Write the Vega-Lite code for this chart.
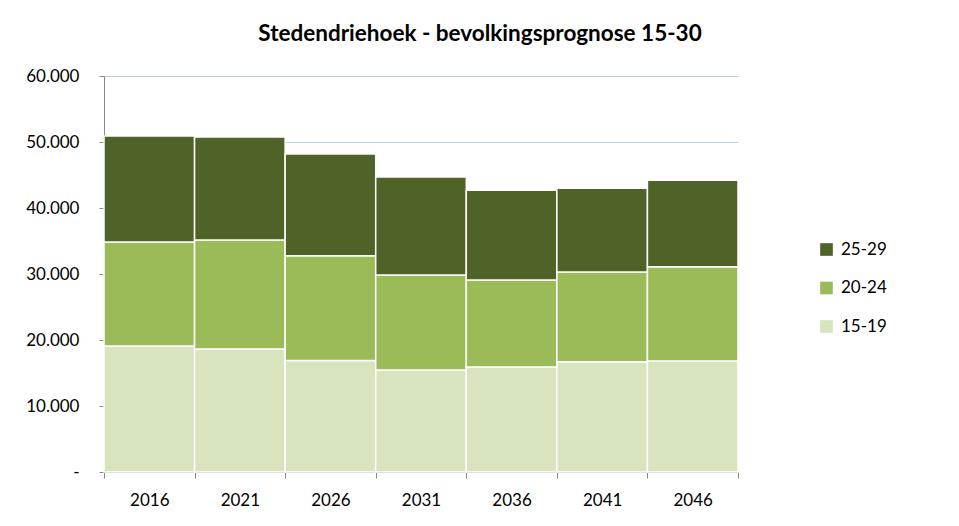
{
  "$schema": "https://vega.github.io/schema/vega-lite/v6.json",
  "width": 634,
  "height": 396,
  "autosize": {"type": "none"},
  "padding": {"left": 104, "top": 76, "right": 221, "bottom": 54},
  "background": "white",
  "title": {
    "text": "Stedendriehoek - bevolkingsprognose 15-30",
    "anchor": "middle",
    "dx": 59,
    "offset": 22,
    "font": "Lato",
    "fontSize": 22.5,
    "fontWeight": "bold",
    "color": "#000000"
  },
  "data": {
    "values": [
      {"jaar": "2016", "leeftijd": "15-19", "aantal": 19100},
      {"jaar": "2016", "leeftijd": "20-24", "aantal": 15750},
      {"jaar": "2016", "leeftijd": "25-29", "aantal": 16050},
      {"jaar": "2021", "leeftijd": "15-19", "aantal": 18650},
      {"jaar": "2021", "leeftijd": "20-24", "aantal": 16500},
      {"jaar": "2021", "leeftijd": "25-29", "aantal": 15600},
      {"jaar": "2026", "leeftijd": "15-19", "aantal": 16900},
      {"jaar": "2026", "leeftijd": "20-24", "aantal": 15850},
      {"jaar": "2026", "leeftijd": "25-29", "aantal": 15450},
      {"jaar": "2031", "leeftijd": "15-19", "aantal": 15450},
      {"jaar": "2031", "leeftijd": "20-24", "aantal": 14400},
      {"jaar": "2031", "leeftijd": "25-29", "aantal": 14850},
      {"jaar": "2036", "leeftijd": "15-19", "aantal": 15900},
      {"jaar": "2036", "leeftijd": "20-24", "aantal": 13200},
      {"jaar": "2036", "leeftijd": "25-29", "aantal": 13600},
      {"jaar": "2041", "leeftijd": "15-19", "aantal": 16700},
      {"jaar": "2041", "leeftijd": "20-24", "aantal": 13600},
      {"jaar": "2041", "leeftijd": "25-29", "aantal": 12700},
      {"jaar": "2046", "leeftijd": "15-19", "aantal": 16800},
      {"jaar": "2046", "leeftijd": "20-24", "aantal": 14300},
      {"jaar": "2046", "leeftijd": "25-29", "aantal": 13100}
    ]
  },
  "mark": {"type": "bar", "stroke": "white", "strokeWidth": 1.5},
  "encoding": {
    "x": {
      "field": "jaar",
      "type": "ordinal",
      "title": null,
      "scale": {"paddingInner": 0, "paddingOuter": 0},
      "axis": {
        "labelAngle": 0,
        "tickBand": "extent",
        "tickSize": 6,
        "labelPadding": 14,
        "labelFont": "Lato",
        "labelFontSize": 17,
        "labelColor": "#000000",
        "domainColor": "#888888",
        "tickColor": "#888888",
        "grid": false
      }
    },
    "y": {
      "field": "aantal",
      "type": "quantitative",
      "aggregate": "sum",
      "stack": "zero",
      "title": null,
      "scale": {"domain": [0, 60000]},
      "axis": {
        "values": [0, 10000, 20000, 30000, 40000, 50000, 60000],
        "labelExpr": "datum.value == 0 ? '-    ' : replace(format(datum.value, ',d'), ',', '.')",
        "tickSize": 5,
        "labelPadding": 20,
        "labelFont": "Lato",
        "labelFontSize": 17,
        "labelColor": "#000000",
        "domainColor": "#888888",
        "tickColor": "#888888",
        "grid": true,
        "gridColor": "#b7d3e2",
        "gridWidth": 1
      }
    },
    "color": {
      "field": "leeftijd",
      "type": "nominal",
      "title": null,
      "scale": {
        "domain": ["25-29", "20-24", "15-19"],
        "range": ["#4f6228", "#9bbb59", "#d7e4bd"]
      },
      "legend": {
        "orient": "none",
        "legendX": 714,
        "legendY": 165,
        "symbolType": "square",
        "symbolSize": 160,
        "symbolStrokeWidth": 0,
        "labelFont": "Lato",
        "labelFontSize": 17,
        "labelColor": "#000000",
        "rowPadding": 20.5,
        "labelOffset": 6
      }
    },
    "order": {"field": "leeftijd", "sort": "ascending"}
  },
  "config": {
    "view": {"stroke": null},
    "axis": {"domainWidth": 1}
  }
}
